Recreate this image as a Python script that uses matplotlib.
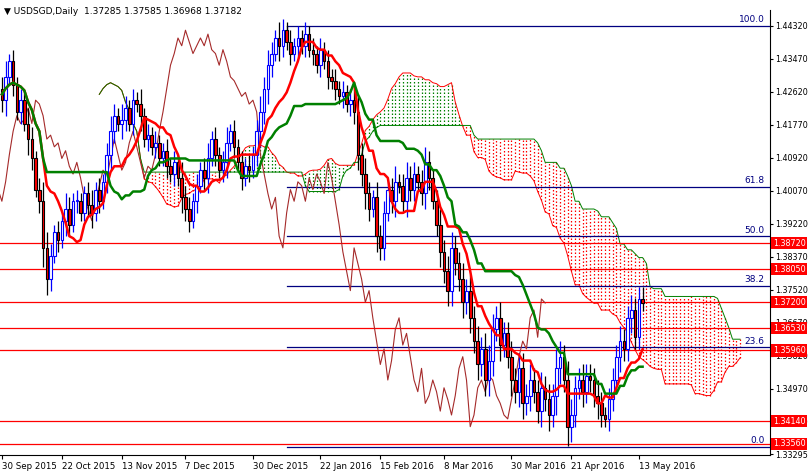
import numpy as np
import matplotlib.pyplot as plt

# daily closes USDSGD, Sep 2015 - May 2016
closes = [
    1.424, 1.430, 1.434, 1.428, 1.421, 1.424, 1.418, 1.414, 1.409, 1.401,
    1.398, 1.386, 1.378, 1.384, 1.390, 1.388, 1.393, 1.396, 1.392, 1.398,
    1.398, 1.395, 1.400, 1.397, 1.395, 1.401, 1.398, 1.403, 1.410, 1.416,
    1.420, 1.418, 1.419, 1.422, 1.418, 1.424, 1.423, 1.420, 1.414, 1.415,
    1.412, 1.413, 1.409, 1.411, 1.407, 1.405, 1.408, 1.404, 1.399, 1.396,
    1.393, 1.398, 1.402, 1.406, 1.404, 1.409, 1.414, 1.410, 1.406, 1.408,
    1.413, 1.416, 1.412, 1.408, 1.404, 1.407, 1.406, 1.410, 1.416, 1.421,
    1.427, 1.433, 1.436, 1.440, 1.438, 1.442, 1.439, 1.436, 1.438, 1.440,
    1.438, 1.441, 1.437, 1.436, 1.433, 1.437, 1.434, 1.430, 1.429, 1.427,
    1.425, 1.426, 1.423, 1.424, 1.421, 1.410, 1.405, 1.400, 1.396, 1.399,
    1.389, 1.386, 1.395, 1.401, 1.398, 1.403, 1.402, 1.398, 1.404, 1.401,
    1.405, 1.403, 1.400, 1.408, 1.404, 1.398, 1.392, 1.385, 1.380, 1.375,
    1.386, 1.382, 1.378, 1.372, 1.375, 1.368, 1.362, 1.356, 1.360, 1.352,
    1.357, 1.365, 1.368, 1.361, 1.364, 1.358, 1.352, 1.349, 1.355, 1.346,
    1.348, 1.352, 1.349, 1.344, 1.350, 1.347, 1.343, 1.348, 1.355, 1.358,
    1.352, 1.340, 1.343, 1.350, 1.352, 1.349, 1.353, 1.352, 1.348, 1.346,
    1.343, 1.342, 1.347, 1.352, 1.358, 1.362, 1.360, 1.368, 1.370, 1.363,
    1.37285, 1.37182,
]
# wick length per bar, in units of 0.001
wicks = [
    3, 4, 2, 3, 2, 3, 2, 4, 3, 2, 3, 5, 4, 3, 2, 3, 2, 4, 3, 2,
    3, 2, 2, 3, 4, 2, 3, 2, 3, 4, 3, 2, 4, 3, 2, 3, 2, 4, 2, 3,
    2, 3, 2, 2, 3, 2, 3, 2, 4, 3, 3, 2, 3, 2, 3, 4, 2, 3, 2, 3,
    4, 2, 3, 2, 3, 2, 3, 2, 3, 4, 3, 4, 3, 2, 4, 3, 2, 3, 2, 3,
    2, 3, 2, 3, 2, 3, 2, 3, 2, 3, 2, 3, 2, 3, 3, 4, 3, 4, 3, 2,
    4, 3, 3, 2, 3, 4, 2, 3, 4, 3, 3, 2, 3, 4, 3, 2, 3, 4, 3, 4,
    4, 3, 3, 4, 3, 4, 3, 4, 3, 4, 4, 4, 3, 4, 3, 3, 4, 3, 4, 4,
    3, 4, 3, 3, 4, 3, 4, 3, 5, 4, 3, 5, 4, 3, 3, 4, 3, 3, 3, 4,
    3, 2, 3, 3, 3, 4, 3, 3, 4, 3, 3, 3,
]
hline_levels = [1.38720, 1.38050, 1.37200, 1.36530, 1.35960, 1.34140, 1.33560]
fib_names = ["0.0", "23.6", "38.2", "50.0", "61.8", "100.0"]
fib_ratios = [0.0, 0.236, 0.382, 0.5, 0.618, 1.0]
fib_low, fib_high = 1.3348, 1.4432
fib_start = 76
axis_ticks = [1.44320, 1.43470, 1.42620, 1.41770, 1.40920, 1.40070, 1.39220,
              1.38370, 1.37520, 1.36670, 1.35820, 1.34970, 1.34120, 1.33295]
date_labels = ["30 Sep 2015", "22 Oct 2015", "13 Nov 2015", "7 Dec 2015", "30 Dec 2015",
               "22 Jan 2016", "15 Feb 2016", "8 Mar 2016", "30 Mar 2016", "21 Apr 2016",
               "13 May 2016"]
date_pos = [0, 16, 32, 49, 67, 85, 101, 118, 136, 152, 170]

c = np.array(closes)
n = len(c)
o = np.r_[c[0] + 0.003, c[:-1]]
o[-1] = 1.37285
w = np.array(wicks) * 0.001
h = np.maximum(o, c) + w
l = np.minimum(o, c) - w
h[-1], l[-1] = 1.37585, 1.36968
idx = np.arange(n)

def mid(period):
    out = np.full(n, np.nan)
    for i in range(n):
        a = max(0, i - period + 1)
        out[i] = (h[a:i + 1].max() + l[a:i + 1].min()) / 2
    return out

tenkan = mid(9)
kijun = mid(26)
span_a = (tenkan + kijun) / 2
span_b = mid(52)
sx = idx + 26

fig = plt.figure(figsize=(8.09, 4.73), dpi=100)
ax = fig.add_axes([0.0, 0.038, 770 / 809, 0.94])
ax.set_xlim(-0.5, 205)
ax.set_ylim(1.3327, 1.4471)

# cloud hatching
for x, a, b in zip(sx, span_a, span_b):
    col = "green" if a >= b else "red"
    ax.vlines(x, min(a, b), max(a, b), colors=col, linestyles=(0, (1.2, 1.6)), lw=0.9)
ax.plot(sx, span_a, color="red", lw=0.7)
ax.plot(sx, span_b, color="green", lw=0.7)

for lv in hline_levels:
    ax.axhline(lv, color="red", lw=0.9)

for name, r in zip(fib_names, fib_ratios):
    lv = fib_low + r * (fib_high - fib_low)
    ax.plot([fib_start, 205], [lv, lv], color="navy", lw=0.9)
    ax.text(203.5, lv + 0.0004, name, color="navy", fontsize=6.5, ha="right", va="bottom")
ax.plot([fib_start, fib_start], [fib_high, fib_high - 0.002], color="navy", lw=0.9)

# chikou
ax.plot(idx - 26, c, color="#a52a2a", lw=0.8)

# candles
for i in range(n):
    up = c[i] >= o[i]
    edge = "blue" if up else "black"
    ax.vlines(i, l[i], h[i], colors=edge, lw=0.9, zorder=3)
    ax.bar(i, abs(c[i] - o[i]) or 0.0002, bottom=min(o[i], c[i]), width=0.7,
           facecolor="white" if up else "red", edgecolor=edge, lw=0.8, zorder=4)

ax.plot(idx, tenkan, color="red", lw=1.8, zorder=5)
ax.plot(idx, kijun, color="green", lw=1.8, zorder=5)

ax.yaxis.tick_right()
ax.set_yticks(axis_ticks)
ax.set_yticklabels([f"{t:.5f}" for t in axis_ticks], fontsize=5.8)
ax.tick_params(axis="y", length=2.5, pad=1.5)
for lv in hline_levels:
    ax.text(1.004, lv, f"{lv:.5f}", transform=ax.get_yaxis_transform(), fontsize=5.8,
            color="white", va="center", ha="left",
            bbox=dict(boxstyle="square,pad=0.2", fc="red", ec="none"))
ax.set_xticks(date_pos)
ax.set_xticklabels(date_labels, fontsize=6.2, ha="left")
ax.tick_params(axis="x", length=3, pad=2)
for s in ["top", "left"]:
    ax.spines[s].set_visible(False)

fig.text(0.005, 0.985, "\u25bc USDSGD,Daily  1.37285 1.37585 1.36968 1.37182",
         fontsize=6.5, va="top")
fig.savefig("out.png", dpi=100)
